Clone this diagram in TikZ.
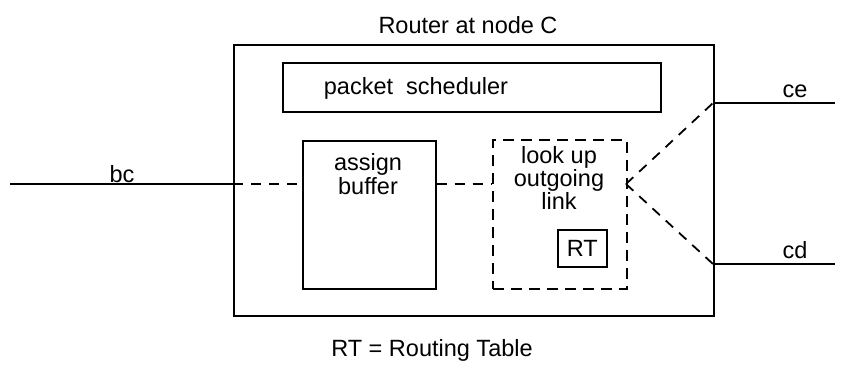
\documentclass[tikz,border=0pt]{standalone}
\usepackage{fontspec}
\setmainfont{Liberation Sans}
\begin{document}
\begin{tikzpicture}[x=1bp,y=-1bp,
  every node/.style={font=\fontsize{23.5bp}{28bp}\selectfont, inner sep=0pt},
  box/.style={draw, line width=1.6bp, rectangle, anchor=north west},
  dbox/.style={draw, line width=2.4bp, rectangle, anchor=north west, dash pattern=on 11bp off 7bp},
  wire/.style={line width=2bp},
  dwire/.style={line width=1.8bp, dash pattern=on 10bp off 8bp},
  lbl/.style={anchor=base}]
\useasboundingbox (0,0) rectangle (845,365);

% router enclosure and its inner blocks
\node[box, minimum width=480bp, minimum height=271bp] (router) at (233,44) {};
\node[box, minimum width=378bp, minimum height=49bp] (sched) at (282,62) {};
\node[box, minimum width=133bp, minimum height=148bp] (buffer) at (302,140) {};
\node[dbox, minimum width=134bp, minimum height=149bp] (lookup) at (492,139) {};
\node[box, minimum width=49bp, minimum height=37bp] (rt) at (557,229) {};

% texts
\node[lbl] (title) at (468,33) {Router at node C};
\node[lbl] (schedtxt) at (416,94) {packet\ \ scheduler};
\node[lbl] (assign) at (368,170) {assign};
\node[lbl] (buftxt) at (368,194) {buffer};
\node[lbl] (look) at (559,163) {look up};
\node[lbl] (outg) at (559,186) {outgoing};
\node[lbl] (link) at (559,209) {link};
\node (rttxt) at (rt.center) {RT};
\node[lbl] (bc) at (122,182) {bc};
\node[lbl] (ce) at (795,97) {ce};
\node[lbl] (cd) at (795,258) {cd};
\node[lbl] (legend) at (432,356) {RT = Routing Table};

% link end points
\coordinate (bcin) at (10,184);
\coordinate (fork) at (626,184);
\coordinate (cein) at (713,103);
\coordinate (ceout) at (835,103);
\coordinate (cdin) at (713,264);
\coordinate (cdout) at (835,264);

% incoming link bc
\draw[wire] (bcin) -- (bcin -| router.west);
\draw[dwire] (bcin -| router.west) -- (bcin -| buffer.west);
\draw[dwire] (bcin -| buffer.east) -- (bcin -| lookup.west);

% outgoing links ce and cd
\draw[dwire] (fork) -- (cein);
\draw[dwire] (fork) -- (cdin);
\draw[wire] (cein) -- (ceout);
\draw[wire] (cdin) -- (cdout);
\end{tikzpicture}
\end{document}
